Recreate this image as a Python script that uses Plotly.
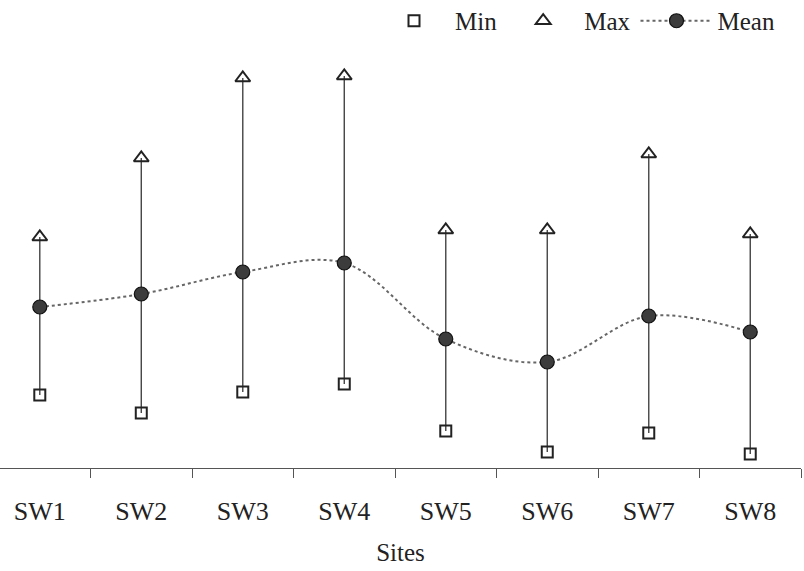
import plotly.graph_objects as go

# Site labels and summary statistics per site
sites = ["SW1", "SW2", "SW3", "SW4", "SW5", "SW6", "SW7", "SW8"]
min_vals = [1.46, 1.10, 1.52, 1.68, 0.74, 0.32, 0.70, 0.28]
max_vals = [4.62, 6.20, 7.80, 7.84, 4.76, 4.76, 6.28, 4.68]
mean_vals = [3.22, 3.48, 3.92, 4.10, 2.58, 2.12, 3.04, 2.72]

FONT = "Liberation Serif, Times New Roman, serif"
INK = "#222222"

fig = go.Figure()

# Min-to-max range lines for each site
seg_x, seg_y = [], []
for s, lo, hi in zip(sites, min_vals, max_vals):
    seg_x += [s, s, None]
    seg_y += [lo, hi, None]
fig.add_trace(go.Scatter(
    x=seg_x, y=seg_y, mode="lines",
    line=dict(color="#444444", width=1.4),
    showlegend=False, hoverinfo="skip",
))

fig.add_trace(go.Scatter(
    x=sites, y=min_vals, mode="markers", name="Min",
    marker=dict(symbol="square-open", size=11, color=INK, line=dict(width=2, color=INK)),
))
fig.add_trace(go.Scatter(
    x=sites, y=max_vals, mode="markers", name="Max",
    marker=dict(symbol="triangle-up-open", size=13, color=INK, line=dict(width=2, color=INK)),
))
fig.add_trace(go.Scatter(
    x=sites, y=mean_vals, mode="lines+markers", name="Mean",
    line=dict(color="#666666", width=2, dash="dot", shape="spline", smoothing=1.0),
    marker=dict(symbol="circle", size=14, color="#3c3c3c", line=dict(width=1.2, color="#111111")),
))

fig.update_layout(
    width=804, height=571,
    margin=dict(l=0, r=3, t=60, b=103, autoexpand=False),
    paper_bgcolor="white", plot_bgcolor="white",
    font=dict(family=FONT, size=25, color=INK),
    legend=dict(
        orientation="h", x=373 / 801, xanchor="left",
        y=1.152, yanchor="top",
        font=dict(family=FONT, size=25, color=INK),
        itemwidth=72,
        bgcolor="rgba(0,0,0,0)",
    ),
    xaxis=dict(
        type="category", range=[-0.392, 7.5],
        tickson="boundaries", ticks="outside", ticklen=9, tickwidth=1.2, tickcolor="#555555",
        showline=True, linecolor="#555555", linewidth=1.4,
        showgrid=False, zeroline=False,
        tickfont=dict(family=FONT, size=26, color=INK),
        ticklabelstandoff=20,
        title=dict(text="Sites", font=dict(family=FONT, size=25, color=INK), standoff=18),
    ),
    yaxis=dict(
        range=[0, 8.16], visible=False, showgrid=False, zeroline=False,
    ),
)

fig.write_html("out.html")
